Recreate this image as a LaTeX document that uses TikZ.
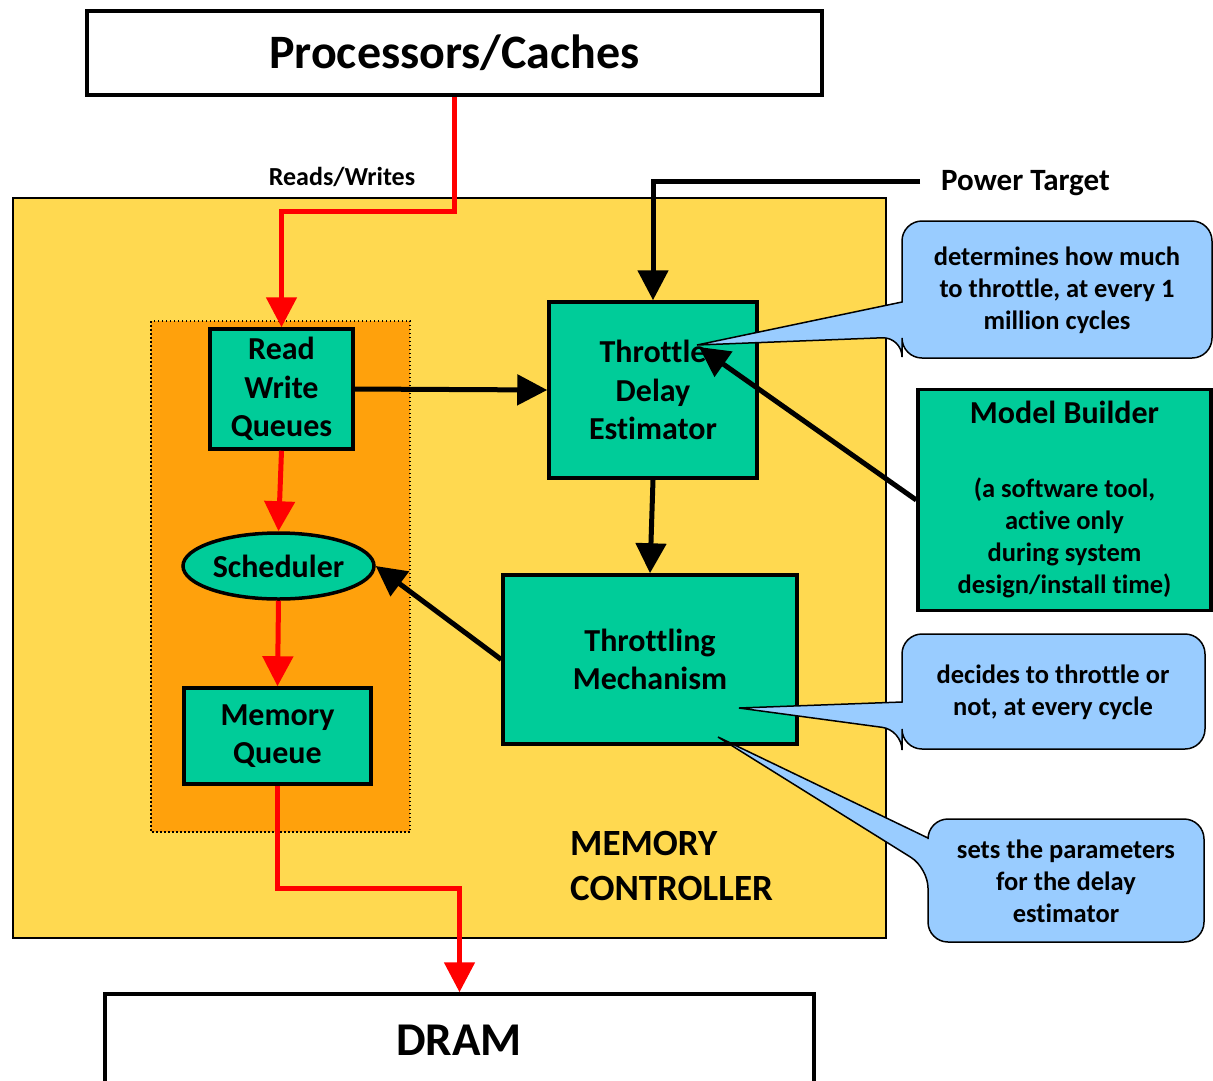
\documentclass[tikz,border=0pt]{standalone}
\usepackage{fontspec}
\setmainfont[Ligatures=NoCommon]{Carlito}
\usetikzlibrary{arrows.meta,shapes.geometric,calc}

\definecolor{mcyellow}{RGB}{255,217,80}
\definecolor{qorange}{RGB}{255,161,12}
\definecolor{unitteal}{RGB}{0,204,153}
\definecolor{noteblue}{RGB}{153,204,255}
\definecolor{flowred}{RGB}{255,0,0}

\tikzset{
  plainbox/.style={draw=black, line width=3.5pt, fill=white, inner sep=0pt},
  tealbox/.style={draw=black, line width=3.5pt, fill=unitteal, inner sep=0pt,
    align=center, font=\bfseries\fontsize{32}{38.5}\selectfont},
  notetext/.style={align=center, inner sep=0pt, font=\bfseries\fontsize{26.5}{32}\selectfont},
  notebody/.style={draw=black, line width=1.5pt, fill=noteblue},
  redflow/.style={draw=flowred, line width=5pt, -{Triangle[length=30pt,width=30pt]}},
  blackflow/.style={draw=black, line width=5pt, -{Triangle[length=30pt,width=30pt]}},
}

\begin{document}
\begin{tikzpicture}[x=1pt, y=-1pt]
\useasboundingbox (0,0) rectangle (1213,1080);

% memory controller area and queue group
\filldraw[fill=mcyellow, draw=black, line width=1.5pt] (13,198) rectangle (886,938);
\filldraw[fill=qorange, draw=black, line width=1.5pt, dash pattern=on 1.5pt off 2.5pt] (151,321) rectangle (410,832);

% top and bottom blocks
\node[plainbox, minimum width=735, minimum height=84, font=\bfseries\fontsize{48}{54}\selectfont] (proc) at (454.5,53) {Processors/Caches};
\node[plainbox, minimum width=709, minimum height=110] (dram) at (459.5,1049) {};
\node[inner sep=0pt, font=\bfseries\fontsize{47}{50}\selectfont] (dramlabel) at (459,1040) {DRAM};

% units
\node[tealbox, minimum width=143, minimum height=120] (rwq) at (281.5,389) {Read\\Write\\Queues};
\node[tealbox, ellipse, minimum width=191, minimum height=66] (sched) at (278.5,566) {Scheduler};
\node[tealbox, minimum width=187, minimum height=96] (mq) at (277.5,736) {Memory\\Queue};
\node[tealbox, minimum width=208, minimum height=176] (tde) at (653,390) {Throttle\\Delay\\Estimator};
\node[tealbox, minimum width=294, minimum height=169] (tm) at (650,659.5) {Throttling\\Mechanism};
\node[tealbox, minimum width=293, minimum height=221, font=\bfseries\fontsize{26.5}{32}\selectfont] (mb) at (1064.5,500)
  {{\fontsize{32}{32}\selectfont Model Builder}\\[42pt](a software tool,\\active only\\during system\\design/install time)};

% labels
\node[inner sep=0pt, font=\bfseries\fontsize{26}{30}\selectfont] (rwlabel) at (342,177) {Reads/Writes};
\node[inner sep=0pt, anchor=west, font=\bfseries\fontsize{31}{36}\selectfont] (power) at (941,183) {Power Target};
\node[inner sep=0pt, anchor=west, align=left, font=\bfseries\fontsize{37}{45}\selectfont] (mclabel) at (570,865.5) {MEMORY\\CONTROLLER};

% data path
\draw[redflow] (proc.south) -- (proc.south |- 0,211) -| (rwq.north);
\draw[redflow] (rwq.south) -- (sched.north);
\draw[redflow] (sched.south) -- (mq.north);
\draw[redflow] (mq.south) -- (mq.south |- 0,888) -| (dram.north);

% control path
\draw[blackflow] (rwq.east) -- (tde.west);
\draw[blackflow] ([xshift=-21pt,yshift=2pt]power.west) -| (tde.north);
\draw[blackflow] (tde.south) -- (tm.north);
\draw[blackflow] (tm.west) -- (sched.east);
\coordinate (tdetip) at (699,347);
\draw[blackflow] (mb.west) -- (tdetip);

% explanatory notes
\coordinate (noteA) at (697,345);
\coordinate (noteB) at (739,708);
\coordinate (noteC) at (718,737);
\filldraw[notebody] (902,302) [rounded corners=20pt] -- (902,221) -- (1212,221) -- (1212,358) -- (902,358) -- (902,337) [sharp corners] -- (noteA) -- cycle;
\filldraw[notebody] (902,702) [rounded corners=20pt] -- (902,634) -- (1205,634) -- (1205,749) -- (902,749) -- (902,730) [sharp corners] -- (noteB) -- cycle;
\filldraw[notebody] (928,838) [rounded corners=20pt] -- (928,819) -- (1204,819) -- (1204,942) -- (928,942) -- (928,868) [sharp corners] -- (noteC) -- cycle;
\node[notetext] (textA) at (1057,290) {determines how much\\to throttle, at every 1\\million cycles};
\node[notetext] (textB) at (1053,692) {decides to throttle or\\not, at every cycle};
\node[notetext] (textC) at (1066,881) {sets the parameters\\for the delay\\estimator};
\end{tikzpicture}
\end{document}
